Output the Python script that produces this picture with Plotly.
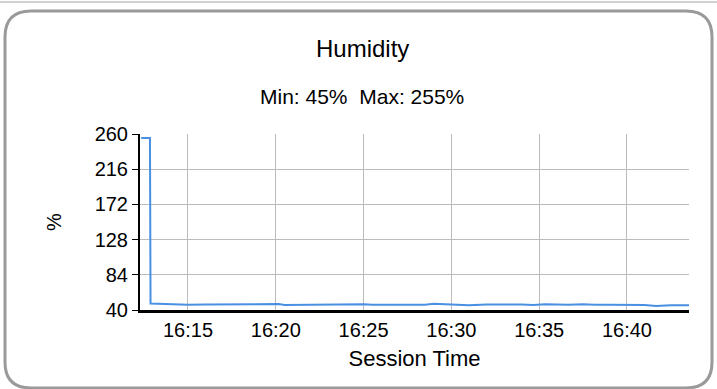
import plotly.graph_objects as go

# Humidity log for the session (timestamps and % readings)
times = [
    "16:12:20", "16:12:50", "16:12:52", "16:13:30", "16:14:00", "16:15:00",
    "16:16:00", "16:17:00", "16:17:40", "16:18:30", "16:19:30", "16:20:10",
    "16:20:30", "16:21:30", "16:22:30", "16:23:30", "16:24:30", "16:25:00",
    "16:25:30", "16:26:30", "16:27:30", "16:28:30", "16:29:00", "16:29:40",
    "16:30:10", "16:31:00", "16:32:00", "16:33:00", "16:34:00", "16:34:40",
    "16:35:20", "16:36:00", "16:36:40", "16:37:30", "16:38:10", "16:39:00",
    "16:40:00", "16:41:00", "16:41:40", "16:42:30", "16:43:32",
]
humidity = [
    255, 255, 48, 47.5, 46.5, 46.5,
    46.8, 47.0, 47.3, 47.0, 47.5, 47.5,
    46.3, 46.5, 47.0, 46.8, 47.3, 47.3,
    46.5, 46.5, 46.5, 46.5, 47.8, 47.3,
    46.3, 46.0, 46.8, 47.0, 46.8, 46.3,
    47.3, 46.8, 46.5, 47.3, 46.5, 46.5,
    46.5, 46.3, 45.0, 46.0, 46.0,
]
y_ticks = [40, 84, 128, 172, 216, 260]
day = "2024-01-01 "
x_vals = [day + t for t in times]

# plot-area geometry in pixels (for the card outline in paper coords)
W, H = 717, 389
L, R, T, B = 140, 28, 134, 79
pw, ph = W - L - R, H - T - B


def px(x):
    return (x - L) / pw


def py(y):
    return (H - B - y) / ph


def rounded_rect(x0, y0, x1, y1, r):
    rx, ry = r / pw, r / ph
    X0, X1 = px(x0), px(x1)
    Y0, Y1 = py(y0), py(y1)  # Y0 top, Y1 bottom
    return (
        f"M {X0 + rx},{Y0} L {X1 - rx},{Y0} Q {X1},{Y0} {X1},{Y0 - ry} "
        f"L {X1},{Y1 + ry} Q {X1},{Y1} {X1 - rx},{Y1} "
        f"L {X0 + rx},{Y1} Q {X0},{Y1} {X0},{Y1 + ry} "
        f"L {X0},{Y0 - ry} Q {X0},{Y0} {X0 + rx},{Y0} Z"
    )


font_main = "Liberation Sans, Arial, sans-serif"

fig = go.Figure()
fig.add_trace(go.Scatter(
    x=x_vals, y=humidity, mode="lines",
    line=dict(color="#4a90e2", width=2),
    hoverinfo="skip", showlegend=False,
))

fig.update_layout(
    width=W, height=H,
    margin=dict(l=L, r=R, t=T, b=B),
    paper_bgcolor="white", plot_bgcolor="white",
    font=dict(family=font_main, color="black"),
    xaxis=dict(
        type="date",
        range=[day + "16:12:16", day + "16:43:32"],
        tickformat="%H:%M", dtick=5 * 60 * 1000,
        tick0=day + "16:15:00",
        showgrid=True, gridcolor="#bcbcbc", gridwidth=1,
        showline=True, linecolor="black", linewidth=3,
        ticks="", tickfont=dict(size=20),
        title=dict(text="Session Time", font=dict(size=22), standoff=11),
        zeroline=False,
    ),
    yaxis=dict(
        range=[40, 260], tickvals=y_ticks,
        showgrid=True, gridcolor="#bcbcbc", gridwidth=1,
        showline=True, linecolor="black", linewidth=2,
        ticks="outside", ticklen=6, tickcolor="black", tickwidth=1,
        tickfont=dict(size=20),
        title=dict(text="%", font=dict(size=20), standoff=28),
        zeroline=False,
    ),
    shapes=[
        dict(type="line", xref="paper", yref="paper",
             x0=px(0), x1=px(W), y0=py(2), y1=py(2),
             line=dict(color="#d0d0d0", width=2)),
        dict(type="path", xref="paper", yref="paper",
             path=rounded_rect(5, 11, 712, 388, 26),
             line=dict(color="#9a9a9a", width=3)),
    ],
    annotations=[
        dict(text="Humidity", xref="paper", yref="paper",
             x=px(362), y=py(48), xanchor="center", yanchor="middle",
             showarrow=False, font=dict(size=24, family=font_main)),
        dict(text="Min: 45%\u00a0 Max: 255%", xref="paper", yref="paper",
             x=px(362), y=py(96), xanchor="center", yanchor="middle",
             showarrow=False, font=dict(size=21, family=font_main)),
    ],
)

fig.write_html("out.html")
